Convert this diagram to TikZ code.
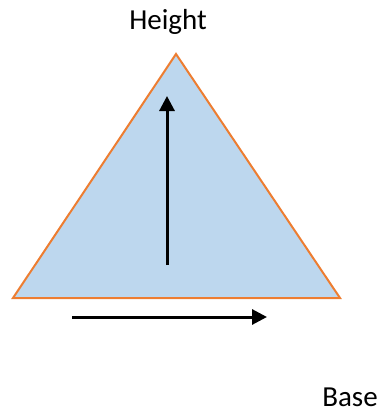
\documentclass[tikz,border=0pt]{standalone}
\usepackage{fontspec}
\setmainfont{Carlito}
\usetikzlibrary{arrows.meta}
\definecolor{triFill}{HTML}{BDD7EE}
\definecolor{triLine}{HTML}{ED7D31}
\tikzset{
  lbl/.style={font=\fontsize{29}{33}\selectfont, inner sep=0pt},
  arr/.style={line width=3pt, -{Triangle[length=15pt,width=15pt]}},
}
\begin{document}
\begin{tikzpicture}[x=1pt,y=-1pt]
\useasboundingbox (0,0) rectangle (379,412);
\coordinate (A) at (176,54);
\coordinate (B) at (13,298);
\coordinate (C) at (340,298);
\filldraw[fill=triFill, draw=triLine, line width=2pt, line join=miter] (A) -- (B) -- (C) -- cycle;
\coordinate (h1) at (167,265);
\coordinate (h2) at (167,96);
\draw[arr] (h1) -- (h2);
\coordinate (b1) at (72,317);
\coordinate (b2) at (267,317);
\draw[arr] (b1) -- (b2);
\node[lbl] (height) at (168,22) {Height};
\node[lbl] (base) at (350,397) {Base};
\end{tikzpicture}
\end{document}
